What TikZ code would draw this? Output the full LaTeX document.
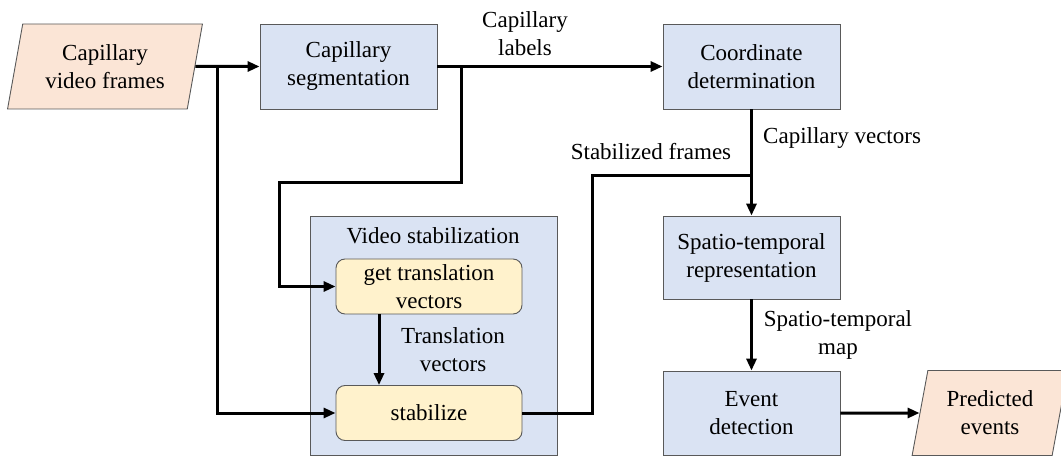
\documentclass[tikz,border=0pt]{standalone}
\usepackage{fontspec}
\newfontfamily\diagfont{Liberation Serif}
\usetikzlibrary{arrows.meta,shapes.geometric}
\definecolor{boxblue}{HTML}{DAE3F3}
\definecolor{ioorange}{HTML}{FBE5D6}
\definecolor{stepyellow}{HTML}{FFF2CC}
\definecolor{edgegray}{HTML}{595959}

\begin{document}
\begin{tikzpicture}[x=1pt,y=-1pt,
  txt/.style={align=center,font=\diagfont\fontsize{23}{28}\selectfont,inner sep=0pt},
  box/.style={txt,draw=edgegray,line width=0.9pt,fill=boxblue,minimum width=177pt,minimum height=85pt},
  io/.style={txt,draw=edgegray,line width=0.9pt,fill=ioorange,trapezium,trapezium left angle=76,
    trapezium right angle=104,trapezium stretches=true,minimum width=195pt,minimum height=85pt},
  stepbox/.style={txt,draw=edgegray,line width=0.9pt,fill=stepyellow,rounded corners=9pt,
    minimum width=186pt,minimum height=55pt},
  groupbox/.style={draw=edgegray,line width=0.9pt,fill=boxblue,minimum width=247pt,minimum height=239pt,inner sep=0pt},
  lbl/.style={txt},
  flow/.style={line width=3pt,-{Triangle[length=12pt,width=10pt]}},
  wire/.style={line width=3pt}]
  \useasboundingbox (0,0) rectangle (1061,457);

  % video stabilization group
  \node[groupbox] (stab) at (433.5,335.5) {};
  \node[lbl] (stabtitle) at (433,236) {Video stabilization};

  % main blocks
  \node[io] (frames) at (105,66.5) {Capillary\\video frames};
  \node[box] (seg) at (348.5,66.5) {Capillary\\segmentation};
  \node[box] (coord) at (751.5,66.5) {Coordinate\\determination};
  \node[box,minimum height=83pt] (strep) at (751.5,257.5) {Spatio-temporal\\representation};
  \node[box,minimum height=84pt] (event) at (751.5,413) {Event\\detection};
  \node[io,minimum width=156pt] (pred) at (990,413) {Predicted\\events};
  \node[stepbox] (gettr) at (429,286.5) {get translation\\vectors};
  \node[stepbox] (stabl) at (429,413) {stabilize};

  % bends
  \coordinate (split1) at (217,66.5);
  \coordinate (split2) at (461,66.5);
  \coordinate (turn1) at (279,183);
  \coordinate (turn2) at (592,176);
  \coordinate (join) at (751.5,176);

  % connectors
  \draw[flow] (frames.east) -- (seg.west);
  \draw[flow] (split1) |- (stabl.west);
  \draw[flow] (seg.east) -- (coord.west);
  \draw[flow] (split2) |- (turn1) |- (gettr.west);
  \draw[flow] ([xshift=-50pt]gettr.south) -- ([xshift=-50pt]stabl.north);
  \draw[wire] (stabl.east) -| (turn2) -- (join);
  \draw[flow] (coord.south) -- (strep.north);
  \draw[flow] (strep.south) -- (event.north);
  \draw[flow] (event.east) -- (pred.west);

  % labels
  \node[lbl] (caplbl) at (525,34) {Capillary\\labels};
  \node[lbl] (stabfr) at (651,152) {Stabilized frames};
  \node[lbl,anchor=west] (capvec) at (763,138) {Capillary vectors};
  \node[lbl] (stmap) at (838,335) {Spatio-temporal\\map};
  \node[lbl] (trvec) at (453,350) {Translation\\vectors};
\end{tikzpicture}
\end{document}
